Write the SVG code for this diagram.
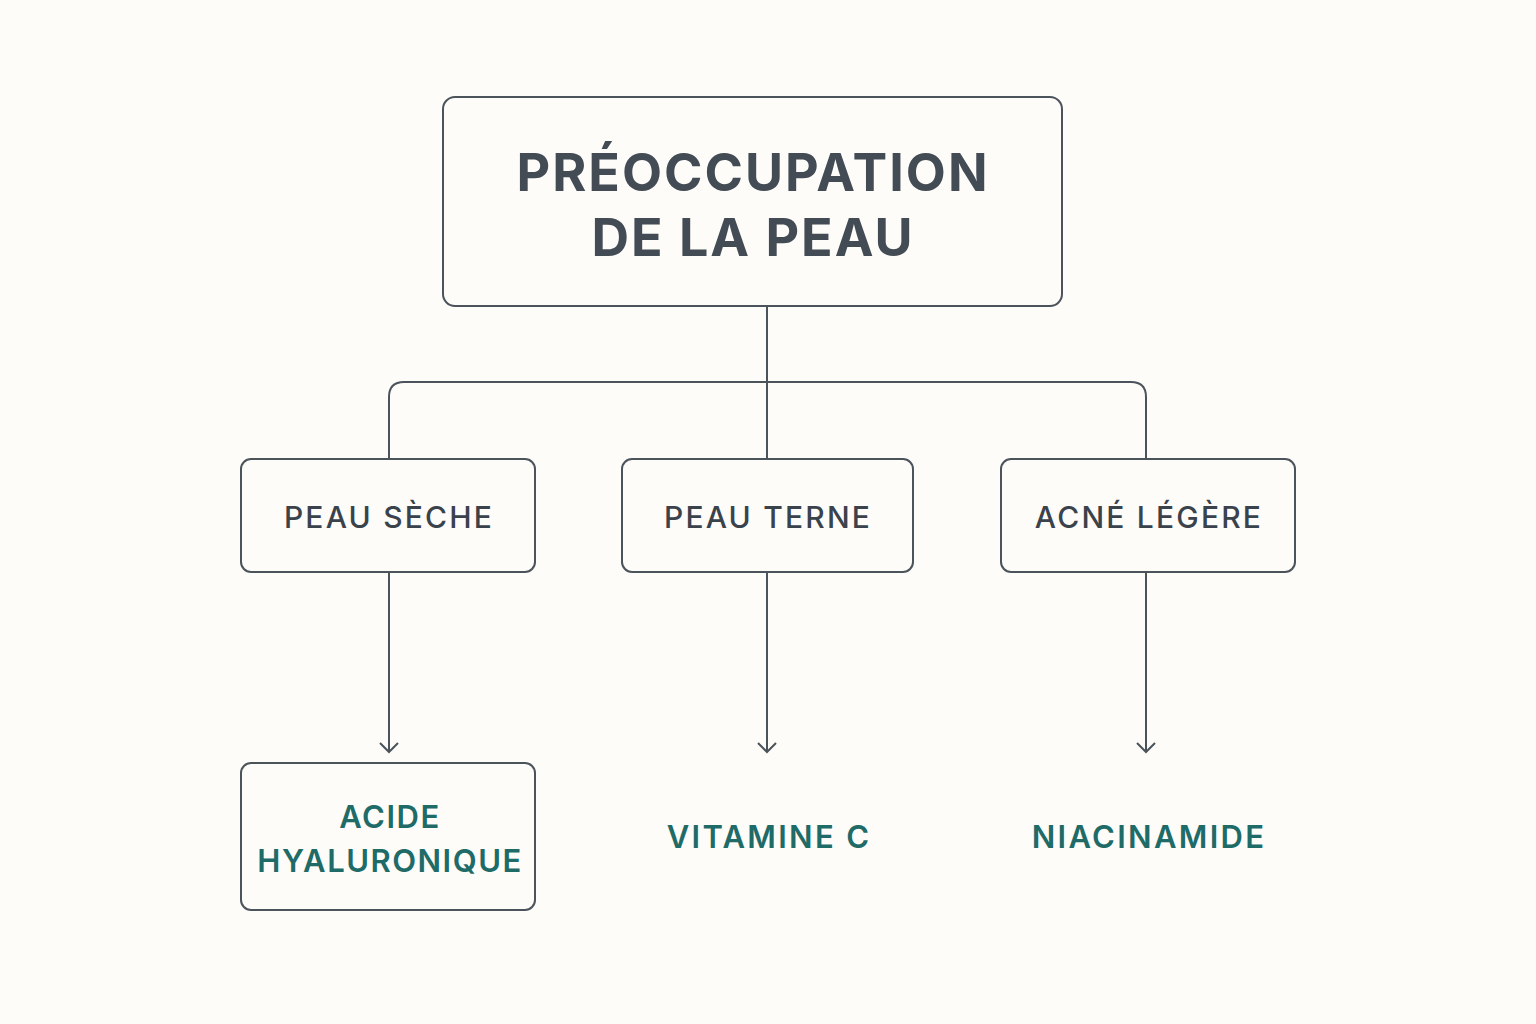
<svg xmlns="http://www.w3.org/2000/svg" width="1536" height="1024" viewBox="0 0 1536 1024">
<defs>
<style>
.box{fill:#fdfcf9;stroke:#4b535b;stroke-width:2}
.ln{fill:none;stroke:#4b535b;stroke-width:2}
.t1{font-family:Inter,"Liberation Sans",sans-serif;font-weight:700;font-size:52px;fill:#434c55;text-anchor:middle;letter-spacing:2px}
.t2{font-family:Inter,"Liberation Sans",sans-serif;font-weight:500;font-size:30px;fill:#3a424b;text-anchor:middle;letter-spacing:2.2px}
.t3{font-family:Inter,"Liberation Sans",sans-serif;font-weight:600;font-size:31px;fill:#1e6b68;text-anchor:middle;letter-spacing:1.5px}
.t4{letter-spacing:2.3px}
</style>
<marker id="ah" viewBox="0 0 20 20" refX="18" refY="10" markerWidth="20" markerHeight="20" markerUnits="userSpaceOnUse" orient="auto">
<path d="M9,1 L18,10 L9,19" fill="none" stroke="#4b535b" stroke-width="2"/>
</marker>
</defs>
<rect width="1536" height="1024" fill="#fdfcf9"/>
<g id="connectors">
<line class="ln" x1="767" y1="306" x2="767" y2="459"/>
<path class="ln" d="M389,459 V397 Q389,382 404,382 H1131 Q1146,382 1146,397 V459"/>
<line class="ln" x1="389" y1="572" x2="389" y2="752" marker-end="url(#ah)"/>
<line class="ln" x1="767" y1="572" x2="767" y2="752" marker-end="url(#ah)"/>
<line class="ln" x1="1146" y1="572" x2="1146" y2="752" marker-end="url(#ah)"/>
</g>
<g id="root"><rect class="box" x="443" y="97" width="619" height="209" rx="12"/>
<text class="t1" x="753" y="191">PRÉOCCUPATION</text><text class="t1" x="753" y="256">DE LA PEAU</text></g>
<g id="n1"><rect class="box" x="241" y="459" width="294" height="113" rx="10"/><text class="t2" x="389" y="528">PEAU SÈCHE</text></g>
<g id="n2"><rect class="box" x="622" y="459" width="291" height="113" rx="10"/><text class="t2" x="768" y="528">PEAU TERNE</text></g>
<g id="n3"><rect class="box" x="1001" y="459" width="294" height="113" rx="10"/><text class="t2" x="1149" y="528">ACNÉ LÉGÈRE</text></g>
<g id="r1"><rect class="box" x="241" y="763" width="294" height="147" rx="10"/><text class="t3" x="390" y="828">ACIDE</text><text class="t3" x="390" y="872">HYALURONIQUE</text></g>
<g id="r2"><text class="t3 t4" x="769" y="848">VITAMINE C</text></g>
<g id="r3"><text class="t3 t4" x="1149" y="848">NIACINAMIDE</text></g>
</svg>
